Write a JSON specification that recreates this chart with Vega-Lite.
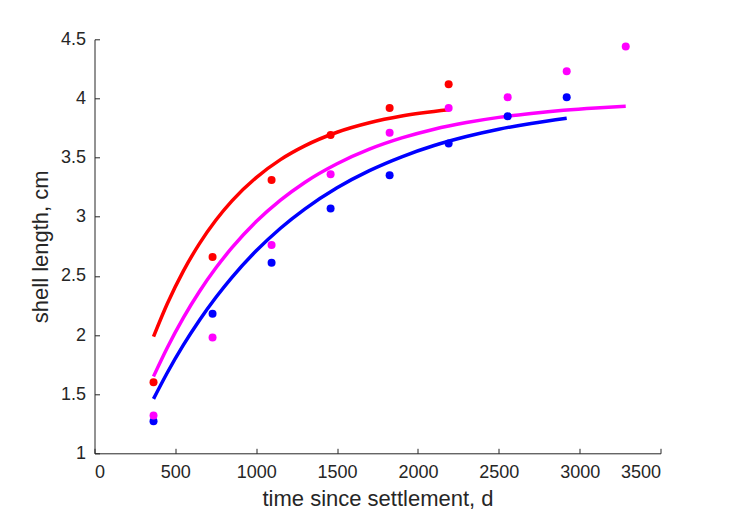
{
  "$schema": "https://vega.github.io/schema/vega-lite/v6.json",
  "width": 566,
  "height": 414,
  "autosize": {"type": "none"},
  "padding": {"left": 94.5, "top": 39.3, "right": 68.5, "bottom": 67.7},
  "background": "white",
  "config": {
    "view": {"stroke": null},
    "font": "Liberation Sans"
  },
  "datasets": {
    "obs": [
      {"t": 365, "L": 1.60, "series": "red"},
      {"t": 730, "L": 2.66, "series": "red"},
      {"t": 1095, "L": 3.31, "series": "red"},
      {"t": 1460, "L": 3.69, "series": "red"},
      {"t": 1825, "L": 3.92, "series": "red"},
      {"t": 2190, "L": 4.12, "series": "red"},
      {"t": 365, "L": 1.27, "series": "blue"},
      {"t": 730, "L": 2.18, "series": "blue"},
      {"t": 1095, "L": 2.61, "series": "blue"},
      {"t": 1460, "L": 3.07, "series": "blue"},
      {"t": 1825, "L": 3.35, "series": "blue"},
      {"t": 2190, "L": 3.62, "series": "blue"},
      {"t": 2555, "L": 3.85, "series": "blue"},
      {"t": 2920, "L": 4.01, "series": "blue"},
      {"t": 365, "L": 1.32, "series": "magenta"},
      {"t": 730, "L": 1.98, "series": "magenta"},
      {"t": 1095, "L": 2.76, "series": "magenta"},
      {"t": 1460, "L": 3.36, "series": "magenta"},
      {"t": 1825, "L": 3.71, "series": "magenta"},
      {"t": 2190, "L": 3.92, "series": "magenta"},
      {"t": 2555, "L": 4.01, "series": "magenta"},
      {"t": 2920, "L": 4.23, "series": "magenta"},
      {"t": 3285, "L": 4.44, "series": "magenta"}
    ],
    "fit": [
      {"t": 365, "L": 1.986, "series": "red"},
      {"t": 450, "L": 2.264, "series": "red"},
      {"t": 550, "L": 2.542, "series": "red"},
      {"t": 650, "L": 2.775, "series": "red"},
      {"t": 750, "L": 2.970, "series": "red"},
      {"t": 850, "L": 3.134, "series": "red"},
      {"t": 1000, "L": 3.331, "series": "red"},
      {"t": 1150, "L": 3.483, "series": "red"},
      {"t": 1300, "L": 3.599, "series": "red"},
      {"t": 1500, "L": 3.714, "series": "red"},
      {"t": 1700, "L": 3.794, "series": "red"},
      {"t": 1900, "L": 3.851, "series": "red"},
      {"t": 2190, "L": 3.904, "series": "red"},
      {"t": 365, "L": 1.650, "series": "magenta"},
      {"t": 450, "L": 1.893, "series": "magenta"},
      {"t": 550, "L": 2.147, "series": "magenta"},
      {"t": 650, "L": 2.370, "series": "magenta"},
      {"t": 750, "L": 2.566, "series": "magenta"},
      {"t": 850, "L": 2.738, "series": "magenta"},
      {"t": 1000, "L": 2.959, "series": "magenta"},
      {"t": 1150, "L": 3.140, "series": "magenta"},
      {"t": 1300, "L": 3.290, "series": "magenta"},
      {"t": 1500, "L": 3.448, "series": "magenta"},
      {"t": 1700, "L": 3.571, "series": "magenta"},
      {"t": 1900, "L": 3.666, "series": "magenta"},
      {"t": 2100, "L": 3.740, "series": "magenta"},
      {"t": 2300, "L": 3.796, "series": "magenta"},
      {"t": 2500, "L": 3.840, "series": "magenta"},
      {"t": 2700, "L": 3.873, "series": "magenta"},
      {"t": 2900, "L": 3.900, "series": "magenta"},
      {"t": 3100, "L": 3.920, "series": "magenta"},
      {"t": 3285, "L": 3.934, "series": "magenta"},
      {"t": 365, "L": 1.460, "series": "blue"},
      {"t": 450, "L": 1.681, "series": "blue"},
      {"t": 550, "L": 1.916, "series": "blue"},
      {"t": 650, "L": 2.127, "series": "blue"},
      {"t": 750, "L": 2.317, "series": "blue"},
      {"t": 850, "L": 2.488, "series": "blue"},
      {"t": 1000, "L": 2.712, "series": "blue"},
      {"t": 1150, "L": 2.903, "series": "blue"},
      {"t": 1300, "L": 3.065, "series": "blue"},
      {"t": 1500, "L": 3.245, "series": "blue"},
      {"t": 1700, "L": 3.390, "series": "blue"},
      {"t": 1900, "L": 3.507, "series": "blue"},
      {"t": 2100, "L": 3.602, "series": "blue"},
      {"t": 2300, "L": 3.678, "series": "blue"},
      {"t": 2500, "L": 3.740, "series": "blue"},
      {"t": 2700, "L": 3.789, "series": "blue"},
      {"t": 2920, "L": 3.833, "series": "blue"}
    ]
  },
  "encoding": {
    "x": {
      "field": "t", "type": "quantitative",
      "scale": {"domain": [0, 3500], "nice": false, "zero": false},
      "axis": {
        "title": "time since settlement, d", "values": [0,500,1000,1500,2000,2500,3000,3500], "format": "d",
        "labelPadding": 15, "titlePadding": 7, "tickSize": -5, "grid": false,
        "labelFont": "Liberation Sans", "labelFontSize": 18, "titleFont": "Liberation Sans", "titleFontSize": 22, "titleFontWeight": "normal",
        "domainColor": "#262626", "tickColor": "#262626", "labelColor": "#262626", "titleColor": "#262626"
      }
    },
    "y": {
      "field": "L", "type": "quantitative",
      "scale": {"domain": [1, 4.5], "nice": false, "zero": false},
      "axis": {
        "title": "shell length, cm", "values": [1,1.5,2,2.5,3,3.5,4,4.5], "format": "~g",
        "labelPadding": 14, "titlePadding": 8, "tickSize": -5, "grid": false,
        "labelFont": "Liberation Sans", "labelFontSize": 18, "titleFont": "Liberation Sans", "titleFontSize": 22, "titleFontWeight": "normal",
        "domainColor": "#262626", "tickColor": "#262626", "labelColor": "#262626", "titleColor": "#262626"
      }
    },
    "color": {
      "field": "series", "type": "nominal",
      "scale": {"domain": ["red", "magenta", "blue"], "range": ["#ff0000", "#ff00ff", "#0000ff"]},
      "legend": null
    }
  },
  "layer": [
    {
      "data": {"name": "fit"},
      "mark": {"type": "line", "strokeWidth": 3.5, "interpolate": "monotone"},
      "encoding": {"detail": {"field": "series"}}
    },
    {
      "data": {"name": "obs"},
      "mark": {"type": "point", "filled": true, "opacity": 1, "size": 64}
    }
  ]
}
